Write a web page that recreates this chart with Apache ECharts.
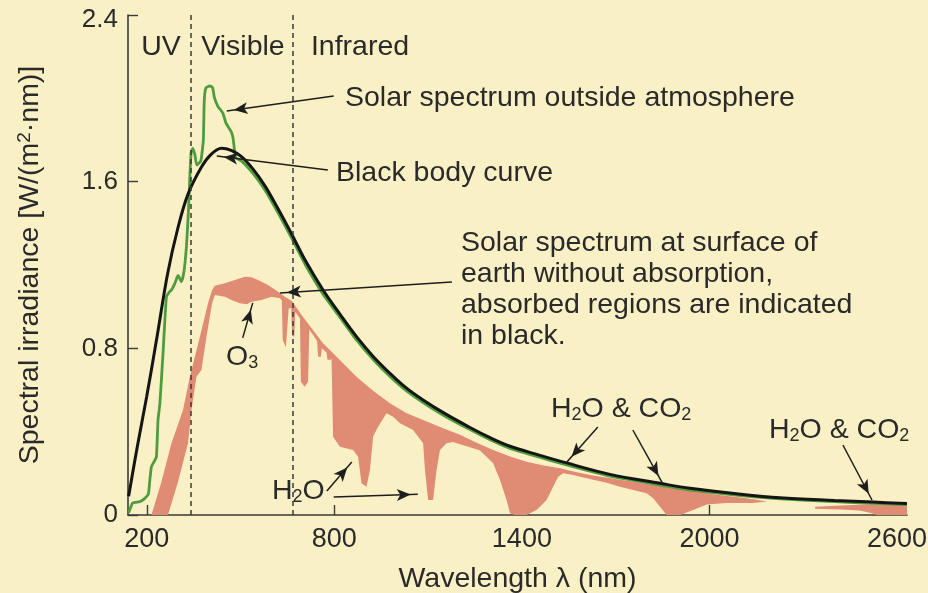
<!DOCTYPE html>
<html>
<head>
<meta charset="utf-8">
<script src="https://cdn.jsdelivr.net/npm/echarts@6/dist/echarts.min.js"></script>
<style>
  html, body { margin: 0; padding: 0; background: #FAF0C5; }
  #chart { width: 928px; height: 593px; }
</style>
</head>
<body>
<div id="chart"></div>
<script>
// Wavelength in nm, spectral irradiance in W/(m²·nm)
const blackBody = [
  [142,0.09],[170,0.33],[200,0.57],[230,0.83],[267,1.16],[300,1.38],[332,1.54],[375,1.67],
  [405,1.73],[439,1.76],[470,1.75],[503,1.72],[540,1.66],[578,1.58],[620,1.47],[663,1.35],
  [706,1.225],[764,1.08],[820,0.96],[871,0.856],[925,0.76],[978,0.68],[1030,0.61],[1084,0.552],
  [1150,0.49],[1234,0.42],[1300,0.37],[1362,0.33],[1450,0.29],[1543,0.25],[1682,0.195],
  [1842,0.152],[1938,0.128],[2100,0.1],[2226,0.083],[2400,0.07],[2524,0.062],[2632,0.055]
];

const solarOutside = [
  [142,0.01],[155,0.058],[178,0.064],[190,0.075],[205,0.1],[210,0.17],[215,0.232],[225,0.26],
  [231,0.28],[236,0.456],[242,0.536],[252,0.776],[258,0.936],[263,1.048],[272,1.07],[279,1.08],
  [290,1.112],[300,1.15],[311,1.12],[319,1.168],[327,1.29],[333,1.45],[338,1.63],[342,1.74],
  [347,1.76],[354,1.73],[360,1.68],[373,1.7],[381,1.8],[384,1.99],[389,2.05],[402,2.06],
  [411,2.05],[416,2.006],[427,1.963],[443,1.93],[454,1.88],[470,1.84],[476,1.81],[480,1.76],
  [485,1.714],[503,1.7],[540,1.64],[578,1.56],[620,1.45],[663,1.33],[706,1.205],[764,1.06],
  [820,0.945],[871,0.84],[925,0.745],[978,0.665],[1030,0.597],[1084,0.54],[1150,0.478],
  [1234,0.41],[1300,0.36],[1362,0.32],[1450,0.28],[1543,0.24],[1682,0.186],[1842,0.144],
  [1938,0.12],[2100,0.093],[2226,0.077],[2400,0.064],[2524,0.056],[2632,0.05]
];

// Surface spectrum: upper edge (no absorption) and lower edge (after absorption)
const surfaceTop = [
  [215,0],[247,0.16],[279,0.344],[316,0.504],[338,0.664],[370,0.856],[396,1.016],[409,1.08],
  [418,1.1],[450,1.112],[482,1.128],[514,1.144],[535,1.141],[556,1.128],[588,1.104],[620,1.072],
  [642,1.048],[664,1.027],[700,0.95],[764,0.824],[820,0.74],[871,0.664],[925,0.595],[978,0.536],
  [1030,0.49],[1084,0.456],[1150,0.415],[1202,0.385],[1250,0.35],[1308,0.312],[1360,0.282],
  [1415,0.256],[1470,0.238],[1522,0.224],[1575,0.205],[1628,0.19],[1735,0.165],[1842,0.142],
  [1938,0.12],[2012,0.1],[2119,0.08],[2184,0.065]
];
const surfaceBottom = [
  [268,0],[300,0.16],[332,0.344],[343,0.504],[359,0.664],[375,0.696],[391,0.856],[409,1.016],
  [418,1.056],[450,1.048],[471,1.032],[498,1.016],[520,1.012],[535,1.024],[567,1.032],[599,1.048],
  [626,1.04],[632,1.03],[635,0.84],[645,0.805],[651,0.93],[654,0.99],[662,0.995],[665,0.86],
  [672,0.856],[675,0.975],[690,0.945],[693,0.64],[705,0.616],[716,0.64],[720,0.89],[745,0.835],
  [748,0.76],[757,0.76],[760,0.8],[775,0.78],[778,0.745],[789,0.745],[791,0.755],[796,0.376],
  [818,0.328],[860,0.312],[876,0.28],[887,0.152],[903,0.136],[914,0.216],[924,0.376],[940,0.424],
  [967,0.488],[988,0.472],[1010,0.44],[1052,0.408],[1084,0.344],[1090,0.216],[1100,0.072],
  [1116,0.072],[1127,0.216],[1138,0.312],[1159,0.344],[1180,0.35],[1202,0.34],[1234,0.325],
  [1266,0.31],[1287,0.28],[1308,0.248],[1330,0.168],[1351,0.072],[1362,0.008],[1378,0],[1415,0],
  [1447,0.024],[1479,0.072],[1500,0.136],[1516,0.184],[1532,0.2],[1564,0.192],[1607,0.176],
  [1650,0.162],[1671,0.155],[1714,0.136],[1756,0.12],[1799,0.104],[1820,0.08],[1842,0.04],
  [1863,0],[1906,0],[1948,0.024],[1991,0.05],[2055,0.058],[2140,0.058],[2184,0.065]
];
const tailTop = [[2338,0.04],[2420,0.046],[2500,0.05],[2580,0.05],[2632,0.048]];
const tailBottom = [[2338,0.03],[2420,0.026],[2480,0.022],[2520,0.008],[2535,0],[2632,0]];

const xTickValues = [200, 800, 1400, 2000, 2600];
const bandEdges = [340, 666];   // UV | Visible | Infrared

// Callout arrows: [from, to] in axis units
const calloutArrows = [
  [[798,2.011],[456,1.939]],
  [[779,1.656],[424,1.723]],
  [[1176,1.118],[626,1.066]],
  [[507,0.85],[539,1.018]],
  [[776,0.115],[856,0.254]],
  [[798,0.086],[1067,0.1]],
  [[1643,0.422],[1544,0.254]],
  [[1755,0.408],[1848,0.158]],
  [[2427,0.336],[2520,0.072]]
];

const BG = '#FAF0C5';
const INK = '#2a2a2a';
const AXIS = '#3a3a3a';
const SALMON = '#E08B74';
const GREEN = '#4E9C3E';
const FONT = '"Liberation Sans", Arial, Helvetica, sans-serif';
const FS = 28.5;

const rich = {
  n:   { fontSize: FS, lineHeight: 31, fontFamily: FONT, fill: INK, color: INK },
  sub: { fontSize: 18, lineHeight: 13, verticalAlign: 'bottom', fontFamily: FONT, fill: INK, color: INK },
  sup: { fontSize: 19, lineHeight: 16, verticalAlign: 'top', fontFamily: FONT, fill: INK, color: INK }
};

function label(text, x, y, align) {
  return {
    type: 'text', x: x, y: y, silent: true, z: 20,
    style: { text: text, rich: rich, align: align || 'left', verticalAlign: 'middle',
             fill: INK, font: FS + 'px ' + FONT }
  };
}

const salmonRegions = [[surfaceTop, surfaceBottom], [tailTop, tailBottom]];

const chart = echarts.init(document.getElementById('chart'), null, { renderer: 'canvas' });
chart.setOption({
  backgroundColor: BG,
  animation: false,
  textStyle: { fontFamily: FONT, color: INK },
  grid: { left: 128, right: 21, top: 15, bottom: 78, containLabel: false, outerBoundsMode: 'none' },
  xAxis: {
    type: 'value', min: 140, max: 2632,
    axisLine: { show: true, lineStyle: { color: AXIS, width: 1.6 } },
    axisTick: { show: true, inside: true, length: 10, customValues: xTickValues,
                lineStyle: { color: AXIS, width: 1.4 } },
    axisLabel: { customValues: xTickValues, fontSize: 27, color: INK, margin: 11, fontFamily: FONT,
                 formatter: v => String(v) },
    splitLine: { show: false },
    name: 'Wavelength λ (nm)', nameLocation: 'middle', nameGap: 50,
    nameTextStyle: { fontSize: FS, color: INK, fontFamily: FONT }
  },
  yAxis: {
    type: 'value', min: 0, max: 2.4, interval: 0.8,
    axisLine: { show: true, lineStyle: { color: AXIS, width: 1.6 } },
    axisTick: { show: true, inside: true, length: 10, lineStyle: { color: AXIS, width: 1.4 } },
    axisLabel: { fontSize: 26, color: INK, margin: 10, fontFamily: FONT,
                 formatter: v => (v === 0 ? '0' : (v >= 2.4 ? '{top|' + v.toFixed(1) + '}' : v.toFixed(1))),
                 rich: { top: { fontSize: 26, fontFamily: FONT, color: INK, padding: [10, 0, 0, 0] } } },
    splitLine: { show: false },
    name: '{n|Spectral irradiance [W/(m}{sup|2}{n|·nm)]}',
    nameLocation: 'middle', nameGap: 82, nameRotate: 90,
    nameTextStyle: { fontSize: FS, color: INK, fontFamily: FONT, rich: rich }
  },
  series: [
    {
      name: 'Surface', type: 'custom', coordinateSystem: 'cartesian2d', z: 1, silent: true,
      data: salmonRegions.map(r => [r[0][0][0], 0]),
      renderItem: function (params, api) {
        const reg = salmonRegions[params.dataIndex];
        const pts = reg[0].map(p => api.coord(p))
          .concat(reg[1].slice().reverse().map(p => api.coord(p)));
        return { type: 'polygon', shape: { points: pts }, style: { fill: SALMON } };
      }
    },
    {
      name: 'Outside atmosphere', type: 'line', z: 2, silent: true,
      data: solarOutside, showSymbol: false, smooth: 0.15,
      lineStyle: { color: GREEN, width: 2.8 },
      markLine: {
        silent: true, symbol: ['none', 'none'], label: { show: false },
        lineStyle: { color: AXIS, width: 1.5, type: [5, 4] },
        data: bandEdges.map(v => ({ xAxis: v }))
      }
    },
    {
      name: 'Black body', type: 'line', z: 3, silent: true,
      data: blackBody, showSymbol: false, smooth: 0.35,
      lineStyle: { color: '#151515', width: 3 },
      markLine: {
        silent: true, symbol: ['none', 'arrow'], symbolSize: [9, 14], label: { show: false },
        lineStyle: { color: '#1e1e1e', width: 1.5, type: 'solid' },
        data: calloutArrows.map(a => [
          { coord: a[0], symbol: 'none' },
          { coord: a[1], symbol: 'arrow', symbolOffset: [0, 7] }
        ])
      }
    }
  ],
  graphic: [
    label('{n|UV}', 161, 47, 'center'),
    label('{n|Visible}', 243, 47, 'center'),
    label('{n|Infrared}', 360, 47, 'center'),
    label('{n|Solar spectrum outside atmosphere}', 345, 98),
    label('{n|Black body curve}', 336, 173),
    label('{n|Solar spectrum at surface of}', 461, 243),
    label('{n|earth without absorption,}', 461, 274),
    label('{n|absorbed regions are indicated}', 461, 305),
    label('{n|in black.}', 461, 336),
    label('{n|O}{sub|3}', 226, 357),
    label('{n|H}{sub|2}{n|O}', 272, 491),
    label('{n|H}{sub|2}{n|O & CO}{sub|2}', 551, 409),
    label('{n|H}{sub|2}{n|O & CO}{sub|2}', 769, 430)
  ]
});
</script>
</body>
</html>
